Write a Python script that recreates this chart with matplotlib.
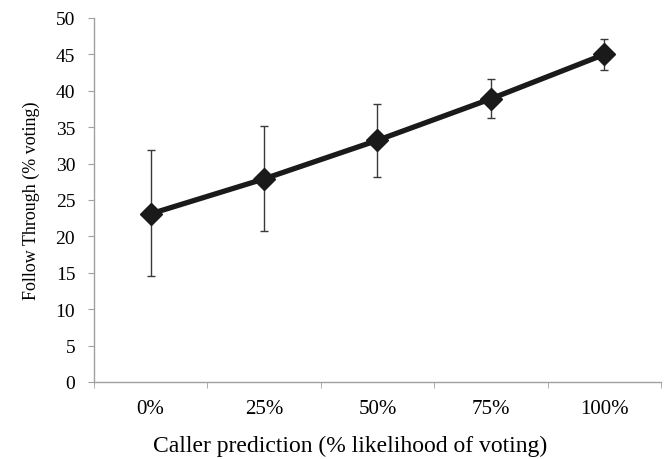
import matplotlib.pyplot as plt
import numpy as np

categories = ["0%", "25%", "50%", "75%", "100%"]
follow_through = [23.1, 27.9, 33.2, 38.9, 45.0]
err_upper = [31.8, 35.1, 38.2, 41.6, 47.1]
err_lower = [14.6, 20.8, 28.1, 36.2, 42.8]

plt.rcParams["font.family"] = ["Liberation Serif", "DejaVu Serif"]

fig = plt.figure(figsize=(6.66, 4.6), dpi=100)
ax = fig.add_axes([0.1411, 0.1674, 0.8514, 0.7913])

x = np.arange(len(categories))
y = np.array(follow_through)
yerr = np.array([y - np.array(err_lower), np.array(err_upper) - y])

ax.errorbar(x, y, yerr=yerr, fmt="none", ecolor="#3a3a3a", elinewidth=1,
            capsize=3, capthick=1, zorder=2)
ax.plot(x, y, color="#1a1a1a", lw=3.8, marker="D", markersize=11,
        markerfacecolor="#1a1a1a", markeredgecolor="#1a1a1a", zorder=3)

ax.set_xlim(-0.5, len(categories) - 0.5)
ax.set_ylim(0, 50)
ax.set_yticks(np.arange(0, 51, 5))
ax.set_xticks(x)
ax.set_xticklabels(categories)
# category boundary ticks like a spreadsheet chart
ax.set_xticks(np.arange(-0.5, len(categories), 1), minor=True)
ax.tick_params(axis="x", which="major", length=0, pad=12.5, labelsize=15)
ax.tick_params(axis="x", which="minor", length=4, color="#a0a0a0", direction="out")
ax.tick_params(axis="y", length=4.5, color="#a0a0a0", direction="out", labelsize=14, pad=9)

for side in ["top", "right"]:
    ax.spines[side].set_visible(False)
for side in ["left", "bottom"]:
    ax.spines[side].set_color("#a0a0a0")
    ax.spines[side].set_linewidth(1)

ax.set_xlabel("Caller prediction (% likelihood of voting)", fontsize=17)
ax.xaxis.set_label_coords(0.451, -0.145)
ax.set_ylabel("Follow Through (% voting)", fontsize=13, labelpad=11)

fig.savefig("out.png", dpi=100)
